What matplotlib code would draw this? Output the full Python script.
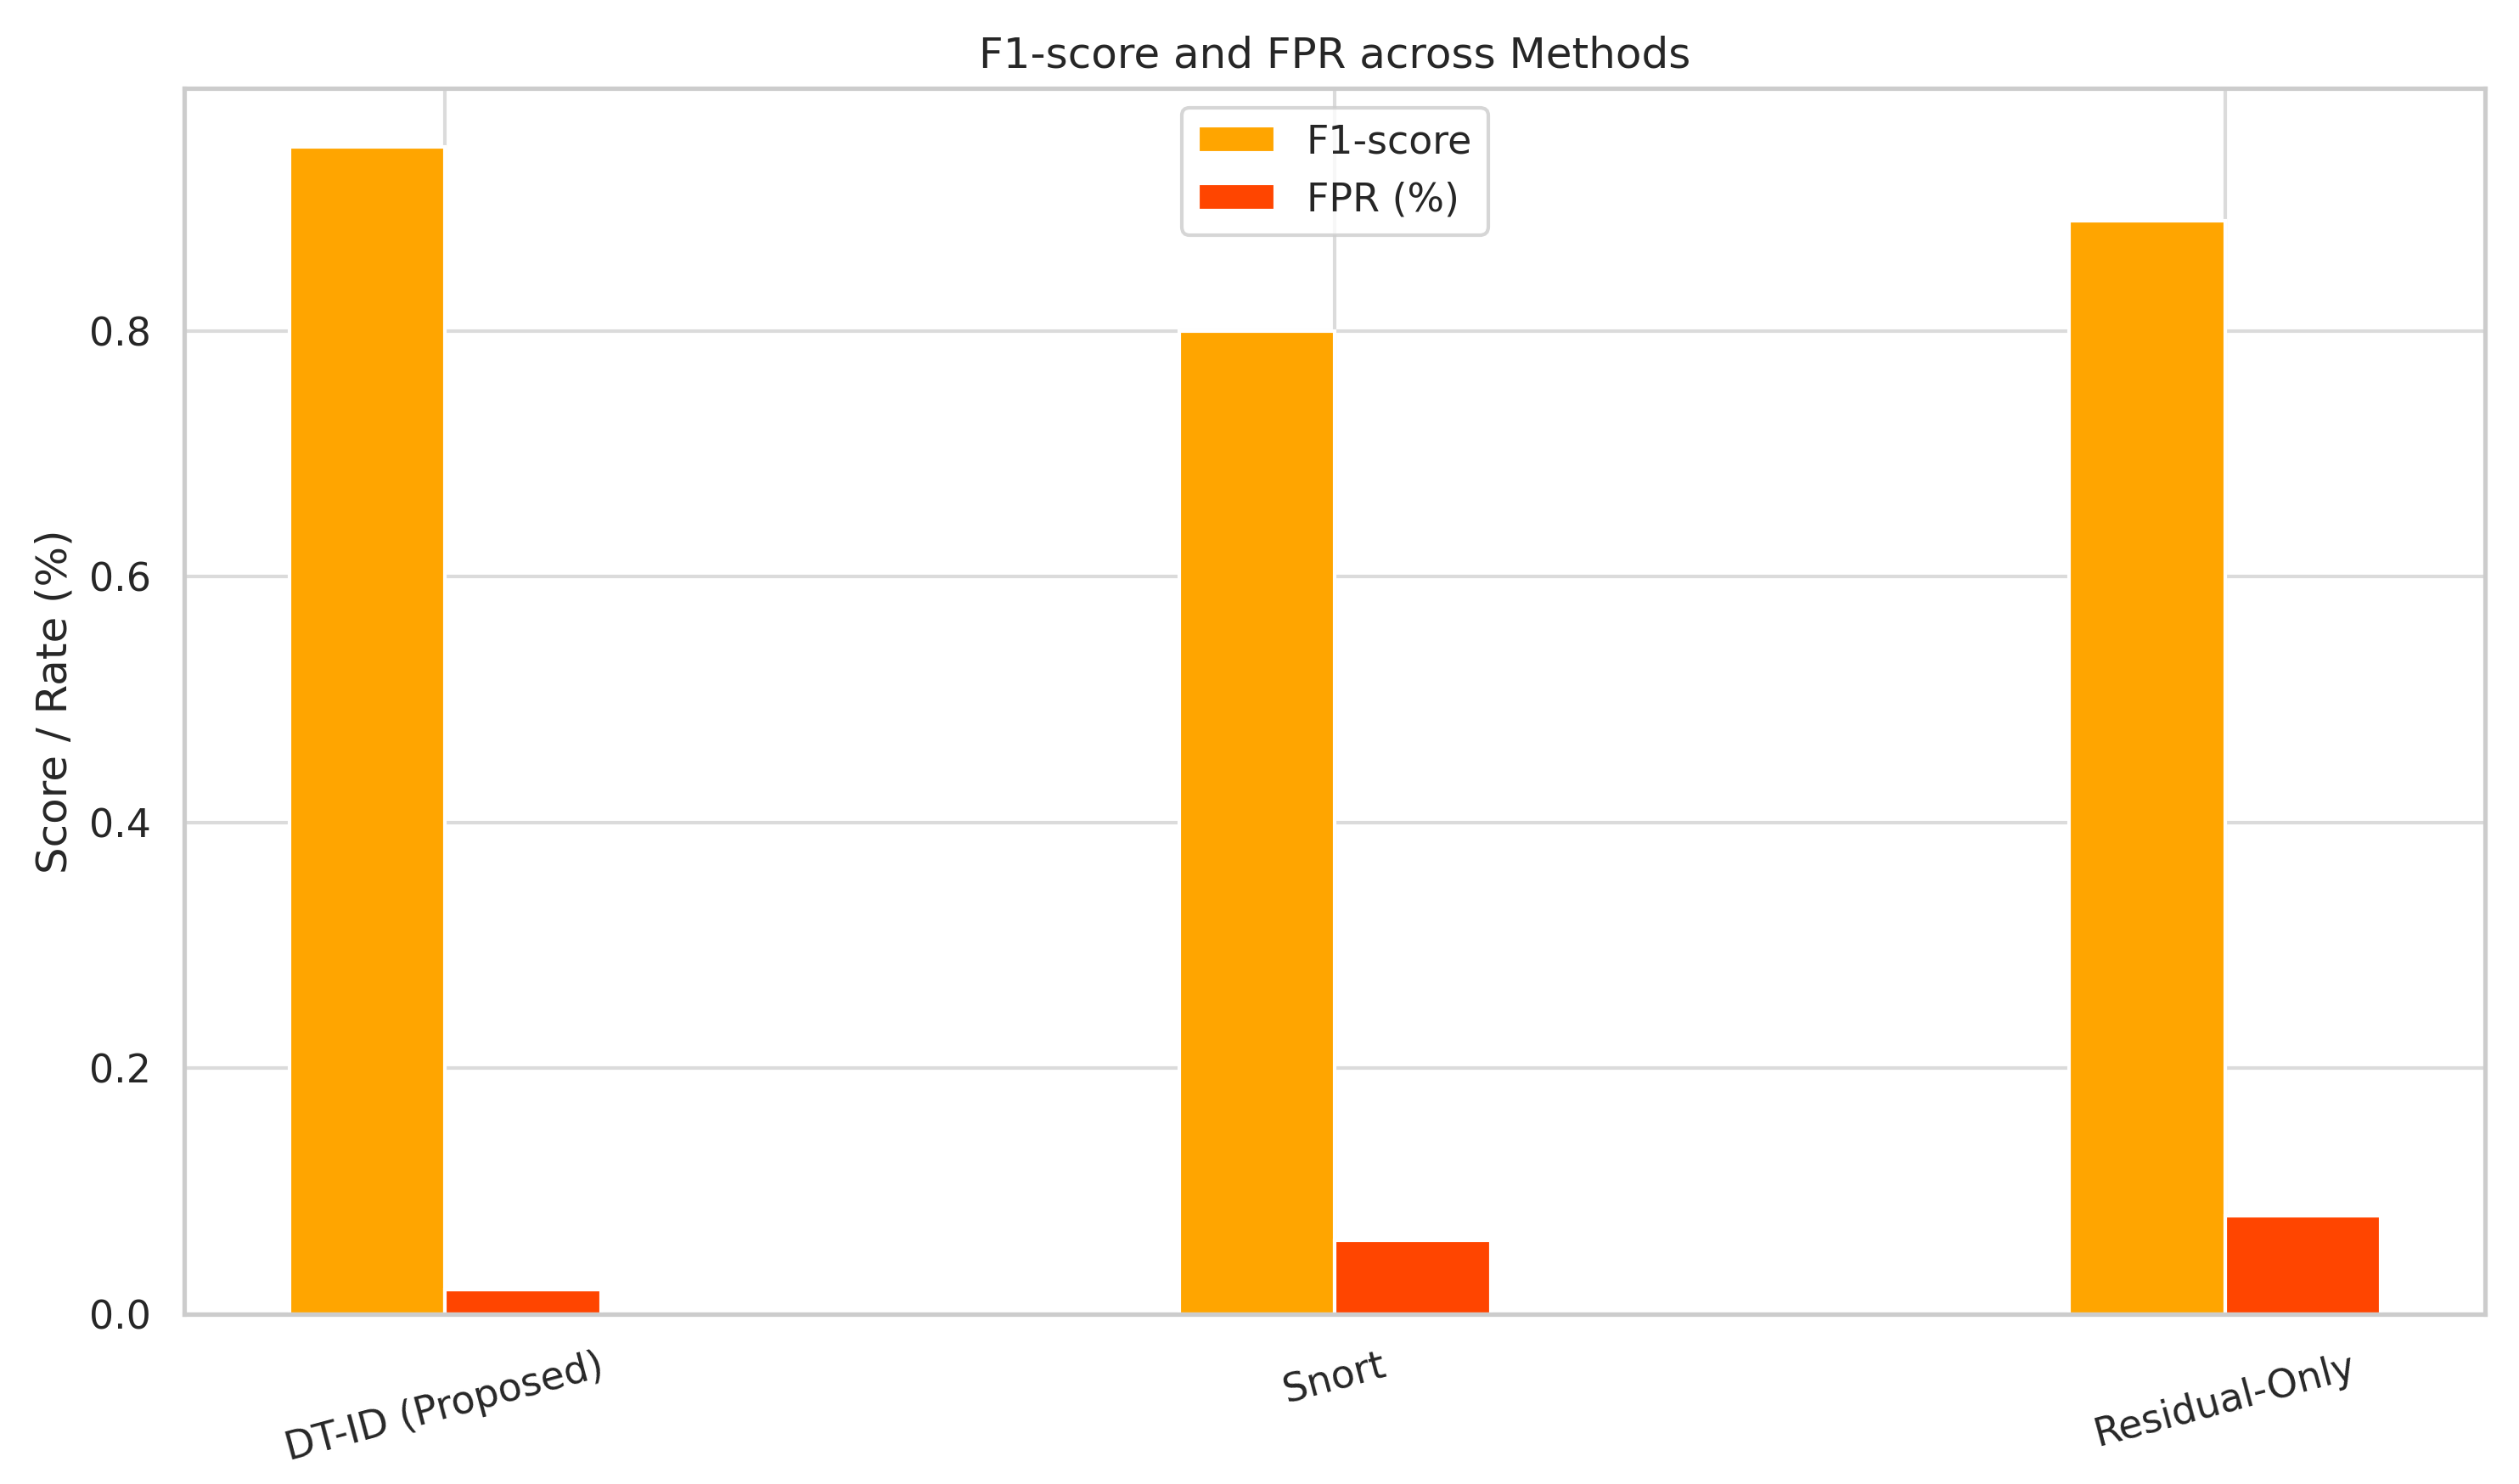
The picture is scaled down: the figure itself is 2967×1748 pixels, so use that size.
import numpy as np
import matplotlib
matplotlib.use("Agg")
import matplotlib.pyplot as plt
import seaborn as sns

methods = ["DT-ID (Proposed)", "Snort", "Residual-Only"]
f1_scores = [0.95, 0.80, 0.89]
fpr_values = [0.02, 0.06, 0.08]

sns.set_theme(style="whitegrid")

x = np.arange(len(methods))
width = 0.175

fig, ax = plt.subplots(figsize=(2967 / 300, 1748 / 300))
ax.bar(x - width / 2, f1_scores, width, label="F1-score", color="orange")
ax.bar(x + width / 2, fpr_values, width, label="FPR (%)", color="orangered")

ax.set_xticks(x)
ax.set_xticklabels(methods, rotation=15)
ax.set_ylabel("Score / Rate (%)")
ax.set_title("F1-score and FPR across Methods")
ax.legend(loc="upper center")
ax.grid(alpha=0.7)

fig.subplots_adjust(left=0.0733, right=0.9866, top=0.9405, bottom=0.1147)
plt.savefig("out.png", dpi=300)
